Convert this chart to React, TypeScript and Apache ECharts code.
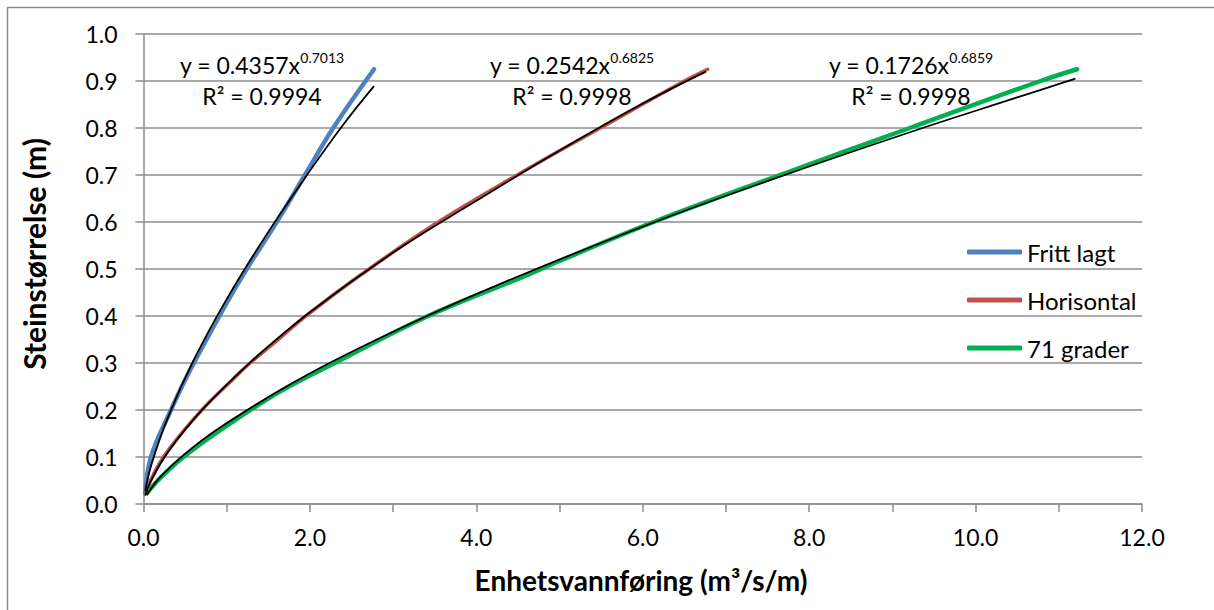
import React, { useEffect, useRef } from "react";
import * as echarts from "echarts";

// ---- Data ----
const seriesNames = ["Fritt lagt", "Horisontal", "71 grader"];
const seriesColors = ["#4F81BD", "#C0504D", "#00B050"];

const blueX = [0.02, 0.09, 0.33, 0.5, 0.62, 1.0, 1.24, 1.62, 1.94, 2.28, 2.77];
const blueY = [0.023, 0.1, 0.2, 0.264, 0.305, 0.428, 0.5, 0.605, 0.7, 0.8, 0.925];

const redX = [0.02, 0.24, 0.7, 1.08, 1.28, 1.64, 1.95, 2.6, 3.48, 4.49, 5.49, 6.5, 6.78];
const redY = [0.023, 0.1, 0.2, 0.266, 0.3, 0.353, 0.4, 0.486, 0.593, 0.7, 0.8, 0.9, 0.925];

const greenX = [0.04, 0.2, 0.48, 0.88, 1.64, 2.3, 3.42, 4.5, 5.0, 6.13, 7.65, 9.21, 10.78, 11.22];
const greenY = [0.023, 0.055, 0.1, 0.152, 0.239, 0.3, 0.4, 0.479, 0.517, 0.6, 0.7, 0.8, 0.9, 0.925];

// black power trendlines (as seen in the picture)
const trendBlueX = [0.02, 0.1, 0.3, 0.6, 1.0, 1.5, 2.0, 2.4, 2.77];
const trendBlueY = [0.028, 0.087, 0.187, 0.305, 0.436, 0.579, 0.709, 0.807, 0.889];

const trendRedX = [0.02, 0.1, 0.3, 0.7, 1.3, 2.0, 3.0, 4.0, 5.0, 6.0, 6.76];
const trendRedY = [0.018, 0.053, 0.112, 0.199, 0.304, 0.408, 0.535, 0.645, 0.752, 0.852, 0.92];

const trendGreenX = [0.04, 0.2, 0.48, 0.88, 1.64, 2.3, 3.42, 4.5, 6.13, 7.53, 9.21, 10.5, 11.2];
const trendGreenY = [0.019, 0.057, 0.104, 0.158, 0.242, 0.306, 0.401, 0.484, 0.599, 0.689, 0.791, 0.865, 0.905];

const equations = [
  { coef: "0.4357", exp: "0.7013", r2: "0.9994" },
  { coef: "0.2542", exp: "0.6825", r2: "0.9998" },
  { coef: "0.1726", exp: "0.6859", r2: "0.9998" },
];
const equationCenters = [262, 572, 911];

const xTitle = "Enhetsvannføring (m³/s/m)";
const yTitle = "Steinstørrelse (m)";

const zip = (xs: number[], ys: number[]) => xs.map((x, i) => [x, ys[i]]);

const FONT = "Lato, 'Open Sans', sans-serif";

export default function App() {
  const ref = useRef<HTMLDivElement>(null);

  useEffect(() => {
    document.body.style.margin = "0";
    const chart = echarts.init(ref.current!, null, { renderer: "svg" });

    const colored = [zip(blueX, blueY), zip(redX, redY), zip(greenX, greenY)];
    const trends = [
      zip(trendBlueX, trendBlueY),
      zip(trendRedX, trendRedY),
      zip(trendGreenX, trendGreenY),
    ];
    const widths = [4.5, 3.6, 4.5];

    const series: any[] = [];
    colored.forEach((d, i) => {
      series.push({
        type: "line",
        name: seriesNames[i],
        data: d,
        smooth: 0.4,
        symbol: "none",
        showSymbol: false,
        lineStyle: { color: seriesColors[i], width: widths[i], cap: "round", join: "round" },
        itemStyle: { color: seriesColors[i] },
        z: 2,
      });
    });
    trends.forEach((d, i) => {
      series.push({
        type: "line",
        name: "trend" + i,
        data: d,
        smooth: 0.4,
        symbol: "none",
        showSymbol: false,
        silent: true,
        lineStyle: { color: "#000000", width: 1.8 },
        itemStyle: { color: "#000000" },
        z: 3,
      });
    });

    const graphics: any[] = [
      {
        type: "rect",
        shape: { x: 7.5, y: 7.5, width: 1300, height: 700 },
        style: { fill: "none", stroke: "#8A8A8A", lineWidth: 1.5 },
        silent: true,
        z: -10,
      },
      {
        type: "text",
        x: 34,
        y: 254,
        rotation: Math.PI / 2,
        style: {
          text: yTitle,
          font: `bold 30px ${FONT}`,
          fill: "#000",
          align: "center",
          verticalAlign: "middle",
        },
      },
      {
        type: "text",
        x: 641,
        y: 580,
        style: {
          text: xTitle,
          font: `bold 28px ${FONT}`,
          fill: "#000",
          align: "center",
          verticalAlign: "middle",
        },
      },
    ];
    equations.forEach((e, i) => {
      graphics.push({
        type: "text",
        x: equationCenters[i],
        y: 63,
        style: {
          text: `{a|y = ${e.coef}x}{b|${e.exp}}`,
          align: "center",
          verticalAlign: "middle",
          fill: "#000",
          rich: {
            a: { fontFamily: FONT, fontSize: 23, lineHeight: 26, fill: "#000", verticalAlign: "bottom" },
            b: { fontFamily: FONT, fontSize: 14, lineHeight: 16, fill: "#000", verticalAlign: "top" },
          },
        },
      });
      graphics.push({
        type: "text",
        x: equationCenters[i],
        y: 96,
        style: {
          text: `R² = ${e.r2}`,
          font: `23px ${FONT}`,
          fill: "#000",
          align: "center",
          verticalAlign: "middle",
        },
      });
    });

    chart.setOption({
      animation: false,
      textStyle: { fontFamily: FONT },
      grid: { left: 143.5, right: 72, top: 34, bottom: 106, containLabel: false },
      legend: {
        orient: "vertical",
        left: 967,
        top: 240,
        padding: 0,
        itemWidth: 55,
        itemHeight: 5,
        itemGap: 24,
        icon: "roundRect",
        data: seriesNames,
        textStyle: { fontFamily: FONT, fontSize: 24, color: "#000", lineHeight: 24 },
      },
      xAxis: {
        type: "value",
        min: 0,
        max: 12,
        interval: 1,
        axisLine: { show: true, lineStyle: { color: "#8C8C8C", width: 1.5 } },
        axisTick: { show: true, length: 8, lineStyle: { color: "#8C8C8C", width: 1.5 } },
        splitLine: { show: false },
        axisLabel: {
          margin: 21,
          color: "#000",
          fontFamily: FONT,
          fontSize: 23,
          formatter: (v: number) => (Math.round(v) % 2 === 0 ? v.toFixed(1) : ""),
        },
      },
      yAxis: {
        type: "value",
        min: 0,
        max: 1,
        interval: 0.1,
        axisLine: { show: true, lineStyle: { color: "#8C8C8C", width: 1.5 } },
        axisTick: { show: true, length: 8, lineStyle: { color: "#8C8C8C", width: 1.5 } },
        splitLine: { show: true, lineStyle: { color: "#8C8C8C", width: 1.5 } },
        axisLabel: {
          margin: 26,
          color: "#000",
          fontFamily: FONT,
          fontSize: 23,
          formatter: (v: number) => v.toFixed(1),
        },
      },
      graphic: graphics,
      series,
    });

    return () => chart.dispose();
  }, []);

  return <div ref={ref} style={{ width: 1214, height: 610 }} />;
}
